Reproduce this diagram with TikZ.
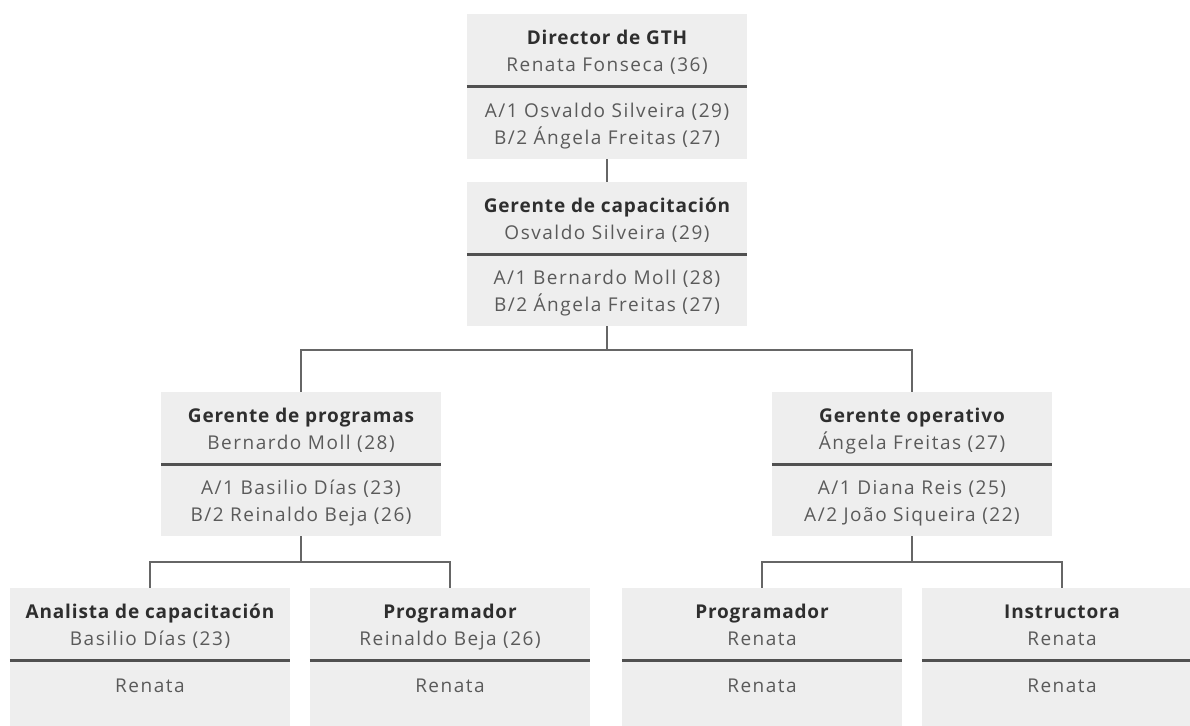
\documentclass[tikz,border=0pt]{standalone}
\usepackage{fontspec}
\setmainfont{Open Sans}[LetterSpace=8, BoldFeatures={LetterSpace=4.5}]
\definecolor{fondo}{HTML}{EEEEEE}
\definecolor{texto}{HTML}{5A5A5A}
\definecolor{titulo}{HTML}{2E2E2E}
\definecolor{linea}{HTML}{666666}
\definecolor{division}{HTML}{505050}
\begin{document}
\begin{tikzpicture}[x=1pt,y=-1pt,
	parte/.style={fill=fondo, minimum width=280pt, minimum height=72pt, inner sep=0pt,
		align=center, text=texto, font=\fontsize{19}{27}\selectfont,
		text height=47pt, text depth=4.5pt},
	solo/.style={parte, text height=14.5pt, text depth=22pt},
	conector/.style={draw=linea, line width=2.5pt},
	corte/.style={draw=division, line width=3.2pt}]
	\clip (0,0) rectangle (1190,725);
	% nivel 1
	\node[parte] (dirT) at (607,50) {\textbf{\color{titulo}Director de GTH}\\Renata Fonseca (36)};
	\node[parte] (dirB) at (607,123) {A/1 Osvaldo Silveira (29)\\B/2 Ángela Freitas (27)};
	% nivel 2
	\node[parte] (capT) at (607,218) {\textbf{\color{titulo}Gerente de capacitación}\\Osvaldo Silveira (29)};
	\node[parte] (capB) at (607,290) {A/1 Bernardo Moll (28)\\B/2 Ángela Freitas (27)};
	% nivel 3
	\node[parte] (progT) at (301,428) {\textbf{\color{titulo}Gerente de programas}\\Bernardo Moll (28)};
	\node[parte] (progB) at (301,500) {A/1 Basilio Días (23)\\B/2 Reinaldo Beja (26)};
	\node[parte] (operT) at (912,428) {\textbf{\color{titulo}Gerente operativo}\\Ángela Freitas (27)};
	\node[parte] (operB) at (912,500) {A/1 Diana Reis (25)\\A/2 João Siqueira (22)};
	% nivel 4
	\node[parte] (analT) at (150,624) {\textbf{\color{titulo}Analista de capacitación}\\Basilio Días (23)};
	\node[solo] (analB) at (150,696) {Renata};
	\node[parte] (prgaT) at (450,624) {\textbf{\color{titulo}Programador}\\Reinaldo Beja (26)};
	\node[solo] (prgaB) at (450,696) {Renata};
	\node[parte] (prgbT) at (762,624) {\textbf{\color{titulo}Programador}\\Renata};
	\node[solo] (prgbB) at (762,696) {Renata};
	\node[parte] (instT) at (1062,624) {\textbf{\color{titulo}Instructora}\\Renata};
	\node[solo] (instB) at (1062,696) {Renata};
	% divisiones
	\foreach \n in {dir,cap,prog,oper,anal,prga,prgb,inst}
		\draw[corte] (\n T.south west) -- (\n T.south east);
	% conectores
	\draw[conector] (dirB.south) -- (capT.north);
	\draw[conector] (capB.south) -- ++(0,24) -| (progT.north);
	\draw[conector] (capB.south) -- ++(0,24) -| (operT.north);
	\draw[conector] (progB.south) -- ++(0,26) -| (analT.north);
	\draw[conector] (progB.south) -- ++(0,26) -| (prgaT.north);
	\draw[conector] (operB.south) -- ++(0,26) -| (prgbT.north);
	\draw[conector] (operB.south) -- ++(0,26) -| (instT.north);
\end{tikzpicture}
\end{document}
